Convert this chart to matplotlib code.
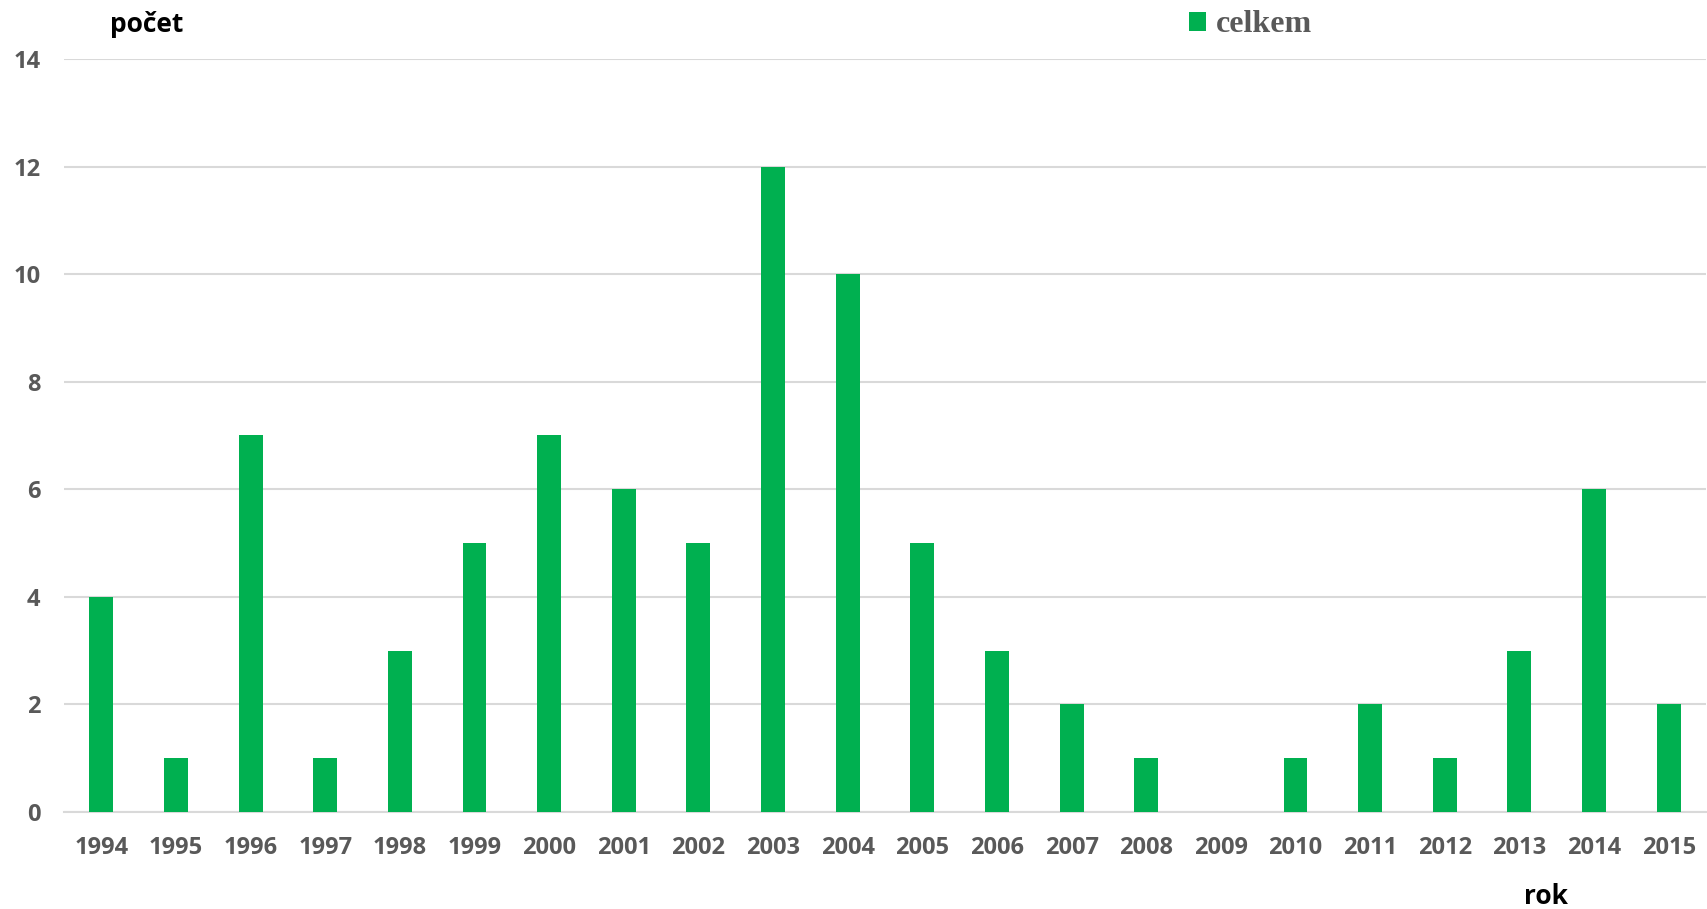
import matplotlib
matplotlib.use('Agg')
import matplotlib.pyplot as plt
import numpy as np

# data
years = ['1994', '1995', '1996', '1997', '1998', '1999', '2000', '2001', '2002', '2003', '2004',
         '2005', '2006', '2007', '2008', '2009', '2010', '2011', '2012', '2013', '2014', '2015']
celkem = [4, 1, 7, 1, 3, 5, 7, 6, 5, 12, 10, 5, 3, 2, 1, 0, 1, 2, 1, 3, 6, 2]

green = '#00B050'
grey = '#595959'

fig = plt.figure(figsize=(17.07, 9.09), dpi=100)
ax = fig.add_axes([64 / 1707, 1 - 812 / 909, (1706 - 64) / 1707, (812 - 59) / 909])

x = np.arange(len(years))
ax.bar(x, celkem, width=0.32, color=green, zorder=3, label='celkem')

ax.set_xlim(-0.5, len(years) - 0.5)
ax.set_ylim(0, 14)
ax.set_yticks(range(0, 15, 2))
ax.set_xticks(x)
ax.set_xticklabels(years)
ax.yaxis.grid(True, color='#D9D9D9', linewidth=1.5, zorder=0)
ax.tick_params(length=0)
for lab in ax.get_xticklabels() + ax.get_yticklabels():
    lab.set_fontfamily('Open Sans')
    lab.set_fontweight('bold')
    lab.set_fontsize(17)
    lab.set_color(grey)
ax.tick_params(axis='x', pad=17)
ax.tick_params(axis='y', pad=17)
for s in ['top', 'right', 'left']:
    ax.spines[s].set_visible(False)
ax.spines['bottom'].set_color('#D9D9D9')
ax.spines['bottom'].set_linewidth(1.5)

# axis titles
fig.text(147 / 1707, 1 - 24 / 909, 'počet', fontfamily='Open Sans', fontweight='bold',
         fontsize=19, color='black', ha='center', va='center')
fig.text(1546 / 1707, 1 - 896 / 909, 'rok', fontfamily='Open Sans', fontweight='bold',
         fontsize=19, color='black', ha='center', va='center')

# legend
fig.legend(loc='center left', bbox_to_anchor=(1160 / 1707, 1 - 25 / 909), frameon=False,
           handlelength=0.55, handleheight=0.55, handletextpad=0.3,
           prop={'family': 'Liberation Serif', 'weight': 'bold', 'size': 23}, labelcolor=grey)

fig.savefig('out.png', dpi=100)
